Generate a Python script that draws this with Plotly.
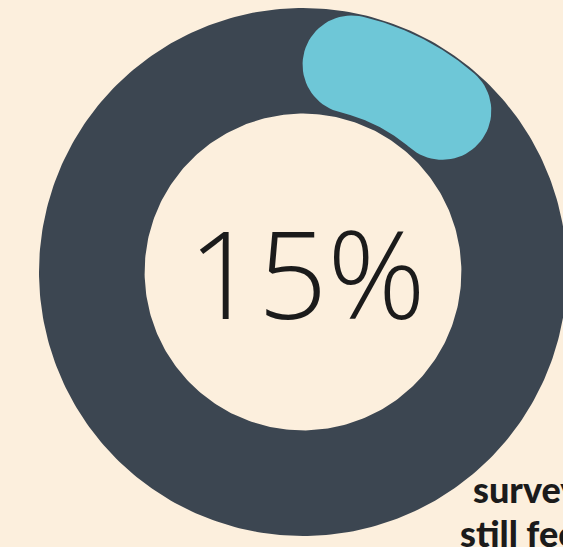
import numpy as np
import plotly.graph_objects as go

# ---- data ----
share_pct = [15]            # highlighted share (percent)
center_labels = ["15%"]
caption_lines = ["survey", "still feel"]

# ---- style / geometry ----
BG = "#fcefdd"
RING = "#3c4651"
ACCENT = "#6ec7d7"
TEXT = "#1b1b1b"
R_OUT, R_IN = 1.0, 0.60
R_MID, HALF_W = 0.807, 0.186

W, H = 563, 547
CX_PX, CY_PX, SCALE = 303, 272, 264.0

def pol(r, a):
    return r * np.sin(a), r * np.cos(a)

# dark full ring
t = np.linspace(0, 2 * np.pi, 361)
ox, oy = pol(R_OUT, t)
ix, iy = pol(R_IN, t[::-1])
ring_x = np.concatenate([ox, ix, ox[:1]])
ring_y = np.concatenate([oy, iy, oy[:1]])

# accent capsule: total angular extent = share of full circle, caps included
sweep = share_pct[0] / 100 * 2 * np.pi
cap = HALF_W / R_MID
a0, a1 = cap, sweep - cap
arc = np.linspace(a0, a1, 80)
phi = np.linspace(0, np.pi, 40)
u1 = np.array([np.sin(a1), np.cos(a1)]); t1 = np.array([np.cos(a1), -np.sin(a1)])
u0 = np.array([np.sin(a0), np.cos(a0)]); t0 = np.array([np.cos(a0), -np.sin(a0)])
c1 = R_MID * u1; c0 = R_MID * u0
ox2, oy2 = pol(R_MID + HALF_W, arc)
cap1 = c1[:, None] + HALF_W * (np.outer(u1, np.cos(phi)) + np.outer(t1, np.sin(phi)))
ix2, iy2 = pol(R_MID - HALF_W, arc[::-1])
cap0 = c0[:, None] + HALF_W * (-np.outer(u0, np.cos(phi)) - np.outer(t0, np.sin(phi)))
cx_ = np.concatenate([ox2, cap1[0], ix2, cap0[0]])
cy_ = np.concatenate([oy2, cap1[1], iy2, cap0[1]])

fig = go.Figure()
fig.add_trace(go.Scatter(x=ring_x, y=ring_y, mode="lines", fill="toself",
                         fillcolor=RING, line=dict(width=0, color=RING),
                         hoverinfo="skip", showlegend=False))
fig.add_trace(go.Scatter(x=cx_, y=cy_, mode="lines", fill="toself",
                         fillcolor=ACCENT, line=dict(width=0, color=ACCENT),
                         hoverinfo="skip", showlegend=False))

def px2x(px):
    return (px - CX_PX) / SCALE

def py2y(py):
    return (CY_PX - py) / SCALE

fig.add_annotation(x=px2x(307), y=py2y(272), xref="x", yref="y",
                   text=center_labels[0], showarrow=False,
                   font=dict(family="Open Sans", size=122, color=TEXT, weight=300),
                   xanchor="center", yanchor="middle")

cap_font = dict(family="Lato", size=36, color=TEXT, weight=900)
fig.add_annotation(x=471 / W, y=(H - 504) / H, xref="paper", yref="paper",
                   text=caption_lines[0], showarrow=False, font=cap_font,
                   xanchor="left", yanchor="bottom", yshift=-9)
fig.add_annotation(x=458 / W, y=(H - 548) / H, xref="paper", yref="paper",
                   text=caption_lines[1], showarrow=False, font=cap_font,
                   xanchor="left", yanchor="bottom", yshift=-9)

fig.update_xaxes(range=[px2x(0), px2x(W)], visible=False, fixedrange=True)
fig.update_yaxes(range=[py2y(H), py2y(0)], visible=False, fixedrange=True)
fig.update_layout(width=W, height=H, margin=dict(l=0, r=0, t=0, b=0),
                  paper_bgcolor=BG, plot_bgcolor=BG, showlegend=False)

fig.write_html("out.html", config={"displayModeBar": False})

# remove the default page margin so the figure sits flush in the window
with open("out.html", "r", encoding="utf-8") as f:
    html = f.read()
html = html.replace("<head>", "<head><style>html,body{margin:0;padding:0;overflow:hidden;background:%s}</style>" % BG, 1)
with open("out.html", "w", encoding="utf-8") as f:
    f.write(html)
